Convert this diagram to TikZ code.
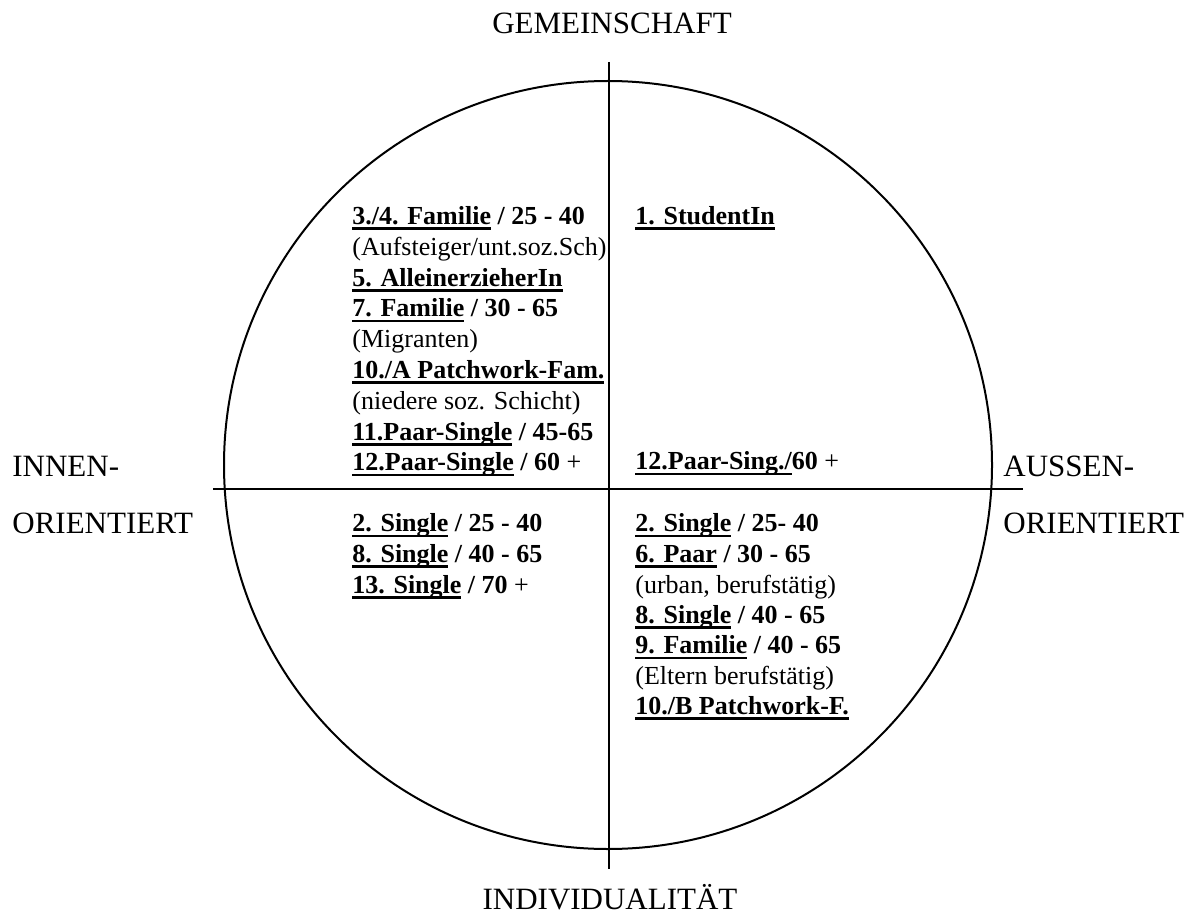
\documentclass[tikz,border=0pt]{standalone}
\usepackage{fontspec}
\setmainfont{Liberation Serif}
% thick underline at a fixed depth below the baseline
\newcommand\ulb[1]{\setbox0\hbox{#1}\rlap{\vrule height -1.5pt depth 2.8pt width \wd0}\box0\relax}
\newcommand\rg[1]{\textnormal{#1}}
\tikzset{
  axis/.style={line width=1pt, black},
  head/.style={inner sep=0pt, anchor=base, font=\fontsize{15.5pt}{18pt}\selectfont},
  headw/.style={inner sep=0pt, anchor=base west, font=\fontsize{15.5pt}{18pt}\selectfont},
  entry/.style={inner sep=0pt, anchor=base west, font=\fontsize{13pt}{15.4pt}\selectfont},
  bentry/.style={entry, font=\fontsize{13pt}{15.4pt}\selectfont\bfseries}
}
\begin{document}
\begin{tikzpicture}[x=0.5pt,y=-0.5pt]
\useasboundingbox (0,0) rectangle (1197,919);

% circle and the two axes
\draw[axis] (608,465) circle[radius=192pt];
\coordinate (vtop) at (609,62);
\coordinate (vbot) at (609,869);
\coordinate (hleft) at (213,489);
\coordinate (hright) at (1023,489);
\draw[axis] (vtop) -- (vbot);
\draw[axis] (hleft) -- (hright);

% axis captions
\node[head] (gem) at (612,34) {GEMEINSCHAFT};
\node[head] (ind) at (610,909) {INDIVIDUALITÄT};
\node[headw] (innen) at (12,476) {INNEN-};
\node[headw] (innenor) at (12,533) {ORIENTIERT};
\node[headw] (aussen) at (1003,476) {AUSSEN-};
\node[headw] (aussenor) at (1003,533) {ORIENTIERT};

% upper left quadrant
\node[bentry] (ul1) at (352,224.4) {\ulb{3./4. Familie} / 25 - 40};
\node[entry]  (ul2) at (352,255.2) {(Aufsteiger/unt.soz.Sch)};
\node[bentry] (ul3) at (352,286.0) {\ulb{5. AlleinerzieherIn}};
\node[bentry] (ul4) at (352,316.8) {\ulb{7. Familie} / 30 - 65};
\node[entry]  (ul5) at (352,347.6) {(Migranten)};
\node[bentry] (ul6) at (352,378.4) {\ulb{10./A Patchwork-Fam.}};
\node[entry]  (ul7) at (352,409.2) {(niedere soz. Schicht)};
\node[bentry] (ul8) at (352,440.0) {\ulb{11.Paar-Single} / 45-65};
\node[bentry] (ul9) at (352,470.8) {\ulb{12.Paar-Single} / 60 \rg{+}};

% upper right quadrant
\node[bentry] (ur1) at (635,224.4) {\ulb{1. StudentIn}};
\node[bentry] (ur2) at (635,469.5) {\ulb{12.Paar-Sing./}60 \rg{+}};

% lower left quadrant
\node[bentry] (ll1) at (352,531.5) {\ulb{2. Single} / 25 - 40};
\node[bentry] (ll2) at (352,562.3) {\ulb{8. Single} / 40 - 65};
\node[bentry] (ll3) at (352,593.1) {\ulb{13. Single} / 70 \rg{+}};

% lower right quadrant
\node[bentry] (lr1) at (635,531.5) {\ulb{2. Single} / 25- 40};
\node[bentry] (lr2) at (635,562.3) {\ulb{6. Paar} / 30 - 65};
\node[entry]  (lr3) at (635,593.1) {(urban, berufstätig)};
\node[bentry] (lr4) at (635,623.0) {\ulb{8. Single} / 40 - 65};
\node[bentry] (lr5) at (635,653.5) {\ulb{9. Familie} / 40 - 65};
\node[entry]  (lr6) at (635,684.0) {(Eltern berufstätig)};
\node[bentry] (lr7) at (635,714.0) {\ulb{10./B Patchwork-F.}};
\end{tikzpicture}
\end{document}
